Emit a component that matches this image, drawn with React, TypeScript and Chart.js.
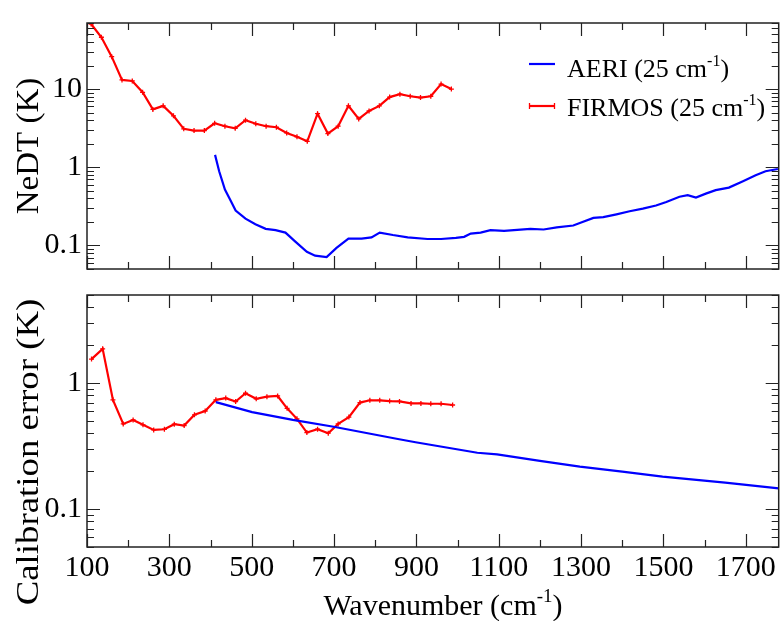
import React, { useEffect, useRef } from "react";
import { Chart, registerables } from "chart.js";

Chart.register(...registerables);

// ---------- data ----------
const X_MIN = 100;
const X_MAX = 1780;
const xTickLabels = [100, 300, 500, 700, 900, 1100, 1300, 1500, 1700];
const nedtTickLabels = [0.1, 1, 10];
const calTickLabels = [0.1, 1];
const NEDT_MIN = 0.05;
const NEDT_MAX = 70;
const CAL_MIN = 0.05;
const CAL_MAX = 5;

const firmosNedtX = [110, 135, 160, 185, 210, 235, 260, 285, 310, 335, 360, 385, 410, 435, 460, 485, 510, 535, 560, 585, 610, 635, 660, 685, 710, 735, 760, 785, 810, 835, 860, 885, 910, 935, 960, 985];
const firmosNedtY = [68, 46, 26, 13.1, 12.7, 9.1, 5.5, 6.1, 4.55, 3.1, 2.95, 2.95, 3.65, 3.35, 3.15, 4.0, 3.6, 3.35, 3.25, 2.75, 2.45, 2.15, 4.85, 2.7, 3.35, 6.1, 4.15, 5.25, 6.1, 7.9, 8.6, 8.1, 7.8, 8.1, 11.6, 10.0];

const aeriNedtX = [411, 421, 435, 449, 461, 485, 509, 534, 558, 582, 606, 634, 654, 682, 706, 735, 767, 791, 811, 843, 879, 927, 960, 996, 1016, 1032, 1056, 1080, 1113, 1137, 1177, 1209, 1241, 1281, 1297, 1330, 1354, 1386, 1418, 1450, 1482, 1507, 1539, 1559, 1579, 1603, 1627, 1659, 1692, 1724, 1748, 1778];
const aeriNedtY = [1.44, 0.89, 0.52, 0.374, 0.28, 0.22, 0.187, 0.163, 0.157, 0.146, 0.112, 0.083, 0.074, 0.071, 0.093, 0.122, 0.122, 0.127, 0.146, 0.136, 0.127, 0.121, 0.121, 0.125, 0.129, 0.142, 0.146, 0.157, 0.154, 0.157, 0.163, 0.16, 0.17, 0.18, 0.194, 0.225, 0.23, 0.25, 0.274, 0.296, 0.324, 0.36, 0.42, 0.44, 0.41, 0.46, 0.51, 0.55, 0.66, 0.79, 0.89, 0.95];

const firmosCalX = [111, 138, 163, 188, 212, 236, 262, 288, 312, 336, 361, 387, 413, 437, 461, 485, 511, 537, 563, 586, 610, 634, 660, 686, 710, 736, 763, 787, 811, 835, 859, 887, 911, 935, 960, 988];
const firmosCalY = [1.55, 1.87, 0.736, 0.474, 0.51, 0.466, 0.425, 0.43, 0.472, 0.46, 0.56, 0.6, 0.736, 0.76, 0.714, 0.83, 0.75, 0.78, 0.79, 0.63, 0.52, 0.405, 0.43, 0.4, 0.474, 0.537, 0.7, 0.73, 0.73, 0.72, 0.715, 0.69, 0.69, 0.685, 0.685, 0.67];

const aeriCalX = [413, 501, 600, 699, 855, 898, 1048, 1096, 1200, 1297, 1400, 1498, 1650, 1780];
const aeriCalY = [0.706, 0.588, 0.51, 0.45, 0.36, 0.339, 0.28, 0.272, 0.241, 0.217, 0.198, 0.181, 0.162, 0.146];

const legendLabels = ["AERI (25 cm", "FIRMOS (25 cm"];

// ---------- helpers ----------
const SERIF = '"Liberation Serif", "Times New Roman", serif';
const RED = "#ff0000";
const BLUE = "#0000ff";
const FRAME = "#222222";

type Part = { t: string; sup?: boolean };

function drawRich(ctx: CanvasRenderingContext2D, parts: Part[], x: number, y: number, size: number, align: "left" | "center") {
  const main = `${size}px ${SERIF}`;
  const sup = `${Math.round(size * 0.62)}px ${SERIF}`;
  let w = 0;
  for (const p of parts) {
    ctx.font = p.sup ? sup : main;
    w += ctx.measureText(p.t).width;
  }
  let cx = align === "center" ? x - w / 2 : x;
  ctx.textAlign = "left";
  ctx.textBaseline = "alphabetic";
  ctx.fillStyle = "#000";
  for (const p of parts) {
    ctx.font = p.sup ? sup : main;
    ctx.fillText(p.t, cx, p.sup ? y - size * 0.42 : y);
    cx += ctx.measureText(p.t).width;
  }
}

function framePlugin(extra: (chart: any) => void) {
  return {
    id: "frame",
    afterDraw(chart: any) {
      const ctx = chart.ctx as CanvasRenderingContext2D;
      const { left, right, top, bottom } = chart.chartArea;
      const xs = chart.scales.x;
      const ys = chart.scales.y;
      ctx.save();
      ctx.strokeStyle = FRAME;
      ctx.lineWidth = 1.5;
      ctx.strokeRect(left, top, right - left, bottom - top);
      ctx.lineWidth = 1.2;
      ctx.beginPath();
      for (let v = X_MIN; v <= X_MAX; v += 100) {
        const major = ((v - X_MIN) / 100) % 2 === 0;
        const len = major ? 13 : 7;
        const px = Math.round(xs.getPixelForValue(v)) + 0.5;
        ctx.moveTo(px, top);
        ctx.lineTo(px, top + len);
        ctx.moveTo(px, bottom);
        ctx.lineTo(px, bottom - len);
      }
      const ymin = ys.min;
      const ymax = ys.max;
      for (let d = Math.floor(Math.log10(ymin)); d <= Math.ceil(Math.log10(ymax)); d++) {
        for (let m = 1; m <= 9; m++) {
          const v = m * Math.pow(10, d);
          if (v < ymin * 0.999 || v > ymax * 1.001) continue;
          const len = m === 1 ? 13 : 7;
          const py = Math.round(ys.getPixelForValue(v)) + 0.5;
          ctx.moveTo(left, py);
          ctx.lineTo(left + len, py);
          ctx.moveTo(right, py);
          ctx.lineTo(right - len, py);
        }
      }
      ctx.stroke();
      extra(chart);
      ctx.restore();
    },
  };
}

function yTitle(ctx: CanvasRenderingContext2D, text: string, cx: number, cy: number, size: number, stretch: number) {
  ctx.save();
  ctx.translate(cx, cy);
  ctx.rotate(-Math.PI / 2);
  ctx.scale(stretch, 1);
  drawRich(ctx, [{ t: text }], 0, size * 0.33, size, "center");
  ctx.restore();
}

function makeChart(
  canvas: HTMLCanvasElement,
  aX: number[], aY: number[], fX: number[], fY: number[],
  ymin: number, ymax: number, yTicks: number[],
  padTop: number, padBottom: number, showX: boolean,
  extra: (chart: any) => void
) {
  return new Chart(canvas, {
    type: "line",
    data: {
      datasets: [
        {
          label: "AERI",
          data: aX.map((x, i) => ({ x, y: aY[i] })),
          borderColor: BLUE,
          backgroundColor: BLUE,
          borderWidth: 2.2,
          pointRadius: 0,
          tension: 0,
        },
        {
          label: "FIRMOS",
          data: fX.map((x, i) => ({ x, y: fY[i] })),
          borderColor: RED,
          backgroundColor: RED,
          borderWidth: 2.2,
          pointStyle: "cross",
          pointRadius: 2.5,
          pointBorderWidth: 1.3,
          pointBorderColor: RED,
          tension: 0,
        },
      ],
    },
    options: {
      responsive: false,
      animation: false,
      devicePixelRatio: 1,
      events: [],
      layout: { padding: { top: padTop, bottom: showX ? 0 : padBottom, left: 0, right: 1 } },
      plugins: { legend: { display: false }, tooltip: { enabled: false }, title: { display: false } },
      scales: {
        x: {
          type: "linear",
          min: X_MIN,
          max: X_MAX,
          display: showX,
          grid: { display: false, drawTicks: false },
          border: { display: false },
          ticks: {
            autoSkip: false,
            maxRotation: 0,
            padding: 3,
            color: "#000",
            font: { family: SERIF, size: 30 },
            callback: (v: any) => String(v),
          },
          afterBuildTicks: (s: any) => {
            s.ticks = xTickLabels.map((v) => ({ value: v }));
          },
          afterFit: (s: any) => {
            s.height = showX ? padBottom : 0;
          },
        },
        y: {
          type: "logarithmic",
          min: ymin,
          max: ymax,
          grid: { display: false, drawTicks: false },
          border: { display: false },
          ticks: {
            autoSkip: false,
            padding: 5,
            color: "#000",
            font: { family: SERIF, size: 30 },
            callback: (v: any) => String(v),
          },
          afterBuildTicks: (s: any) => {
            s.ticks = yTicks.map((v) => ({ value: v }));
          },
          afterFit: (s: any) => {
            s.width = 87;
          },
        },
      },
    } as any,
    plugins: [framePlugin(extra)],
  });
}

export default function App() {
  const topRef = useRef<HTMLCanvasElement>(null);
  const botRef = useRef<HTMLCanvasElement>(null);

  useEffect(() => {
    const top = makeChart(
      topRef.current!, aeriNedtX, aeriNedtY, firmosNedtX, firmosNedtY,
      NEDT_MIN, NEDT_MAX, nedtTickLabels, 18, 352, false,
      (chart) => {
        const ctx = chart.ctx as CanvasRenderingContext2D;
        const a = chart.chartArea;
        yTitle(ctx, "NeDT (K)", 27, (a.top + a.bottom) / 2, 32, 1.03);
        // legend
        ctx.lineWidth = 2.2;
        ctx.strokeStyle = BLUE;
        ctx.beginPath();
        ctx.moveTo(529, 64);
        ctx.lineTo(555, 64);
        ctx.stroke();
        ctx.strokeStyle = RED;
        ctx.beginPath();
        ctx.moveTo(529, 106);
        ctx.lineTo(555, 106);
        ctx.stroke();
        ctx.lineWidth = 1.3;
        ctx.beginPath();
        ctx.moveTo(529.5, 103);
        ctx.lineTo(529.5, 109);
        ctx.moveTo(554.5, 103);
        ctx.lineTo(554.5, 109);
        ctx.stroke();
        drawRich(ctx, [{ t: legendLabels[0] }, { t: "-1", sup: true }, { t: ")" }], 567, 77, 26, "left");
        drawRich(ctx, [{ t: legendLabels[1] }, { t: "-1", sup: true }, { t: ")" }], 567, 116, 26, "left");
      }
    );
    const bot = makeChart(
      botRef.current!, aeriCalX, aeriCalY, firmosCalX, firmosCalY,
      CAL_MIN, CAL_MAX, calTickLabels, 295, 74, true,
      (chart) => {
        const ctx = chart.ctx as CanvasRenderingContext2D;
        yTitle(ctx, "Calibration error (K)", 27, 452, 32, 1.15);
        drawRich(ctx, [{ t: "Wavenumber (cm" }, { t: "-1", sup: true }, { t: ")" }], 443, 615, 30, "center");
      }
    );
    return () => {
      top.destroy();
      bot.destroy();
    };
  }, []);

  return (
    <div style={{ position: "fixed", left: 0, top: 0, width: 784, height: 621, background: "#fff" }}>
      <canvas ref={botRef} width={784} height={621} style={{ position: "absolute", left: 0, top: 0 }} />
      <canvas ref={topRef} width={784} height={621} style={{ position: "absolute", left: 0, top: 0 }} />
    </div>
  );
}
